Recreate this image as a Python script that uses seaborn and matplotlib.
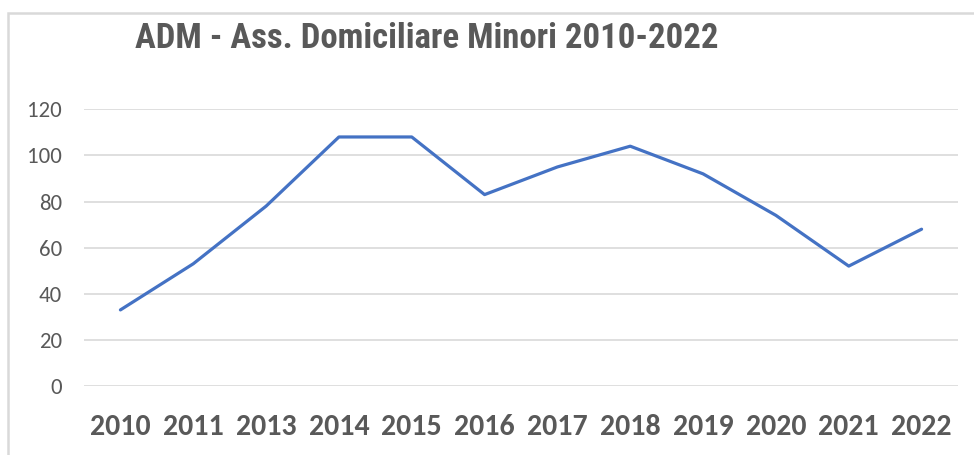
import matplotlib.pyplot as plt
import matplotlib.patches as mpatches
import pandas as pd
import seaborn as sns

years = ["2010", "2011", "2013", "2014", "2015", "2016", "2017", "2018", "2019", "2020", "2021", "2022"]
values = [33, 53, 78, 108, 108, 83, 95, 104, 92, 74, 52, 68]
y_ticks = [0, 20, 40, 60, 80, 100, 120]

sns.set_theme(style="white")
plt.rcParams["font.family"] = ["Carlito", "DejaVu Sans"]

df = pd.DataFrame({"anno": years, "valore": values})

fig = plt.figure(figsize=(9.74, 4.55), dpi=100)
ax = fig.add_axes([84 / 974, (455 - 386) / 455, (958 - 84) / 974, (386 - 109.3) / 455])

sns.lineplot(data=df, x="anno", y="valore", ax=ax, color="#4472C4", linewidth=2.3, sort=False)

ax.set_xlim(-0.5, len(years) - 0.5)
ax.set_ylim(0, 120)
ax.set_yticks(y_ticks)
ax.yaxis.grid(True, color="#D9D9D9", linewidth=1.2)
ax.set_axisbelow(True)
for s in ax.spines.values():
    s.set_visible(False)
ax.set_xlabel("")
ax.set_ylabel("")
ax.tick_params(axis="y", length=0, pad=16, labelsize=16.5, labelcolor="#595959")
ax.tick_params(axis="x", length=0, pad=20, labelsize=21.5, labelcolor="#595959")
for lbl in ax.get_xticklabels():
    lbl.set_fontweight("bold")

fig.text(135 / 974, 1 - 38 / 455, "ADM - Ass. Domiciliare Minori 2010-2022",
         family=["Roboto Condensed", "Liberation Sans"], fontsize=25, fontweight="bold",
         color="#595959", ha="left", va="center")

# chart area border
fig.patches.append(mpatches.Rectangle((8 / 974, -0.1), 1.1, 1 - 13 / 455 + 0.1,
                                      transform=fig.transFigure, fill=False,
                                      edgecolor="#D9D9D9", linewidth=1.8))

fig.savefig("out.png", dpi=100)
